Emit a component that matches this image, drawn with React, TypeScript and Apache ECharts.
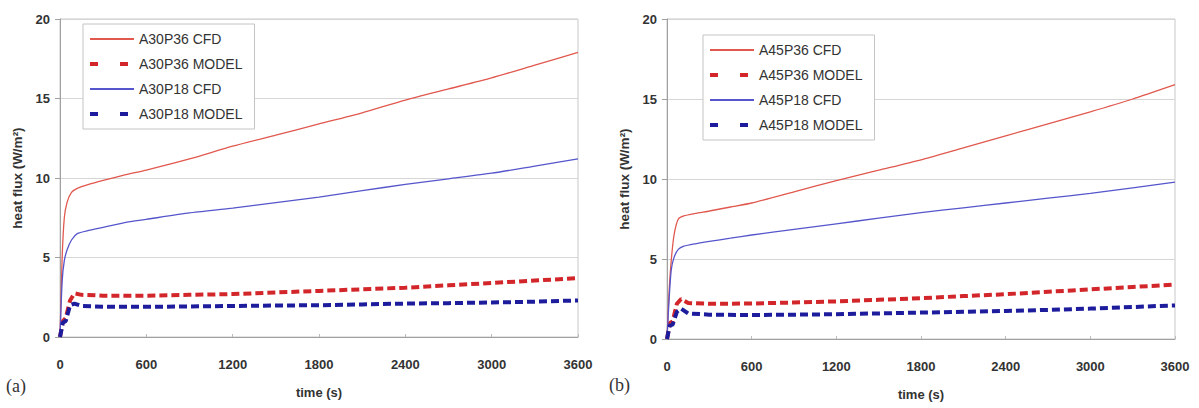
import React, { useEffect, useRef } from "react";
import * as echarts from "echarts";

const timeCfd = [0, 15, 30, 50, 80, 120, 200, 300, 450, 600, 900, 1200, 1500, 1800, 2100, 2400, 2700, 3000, 3300, 3600];
const timeModel = [0, 20, 40, 70, 100, 150, 300, 600, 900, 1200, 1500, 1800, 2100, 2400, 2700, 3000, 3300, 3600];

const a30p36Cfd = [0, 5, 7.5, 8.5, 9.1, 9.35, 9.6, 9.85, 10.2, 10.5, 11.2, 12.0, 12.7, 13.4, 14.1, 14.9, 15.6, 16.3, 17.1, 17.9];
const a30p18Cfd = [0, 3.5, 4.8, 5.5, 6.1, 6.5, 6.7, 6.9, 7.2, 7.4, 7.8, 8.1, 8.45, 8.8, 9.2, 9.6, 9.95, 10.3, 10.75, 11.2];
const a30p36Model = [0, 1.0, 1.2, 2.3, 2.75, 2.65, 2.6, 2.6, 2.65, 2.7, 2.8, 2.9, 3.0, 3.1, 3.25, 3.4, 3.55, 3.7];
const a30p18Model = [0, 0.9, 1.0, 2.0, 2.1, 1.95, 1.9, 1.9, 1.92, 1.95, 1.98, 2.0, 2.05, 2.1, 2.13, 2.17, 2.22, 2.3];

const a45p36Cfd = [0, 3, 4.9, 6.5, 7.5, 7.7, 7.85, 8.0, 8.25, 8.5, 9.2, 9.9, 10.55, 11.2, 11.95, 12.7, 13.45, 14.2, 15.0, 15.9];
const a45p18Cfd = [0, 2.5, 4.3, 5.1, 5.6, 5.8, 5.95, 6.1, 6.3, 6.5, 6.85, 7.2, 7.55, 7.9, 8.2, 8.5, 8.8, 9.1, 9.45, 9.8];
const a45p36Model = [0, 1.0, 1.1, 2.2, 2.5, 2.25, 2.2, 2.22, 2.28, 2.35, 2.45, 2.55, 2.68, 2.8, 2.95, 3.1, 3.25, 3.4];
const a45p18Model = [0, 0.85, 0.9, 1.7, 1.9, 1.6, 1.52, 1.5, 1.52, 1.55, 1.6, 1.65, 1.7, 1.75, 1.82, 1.9, 2.0, 2.1];

const legendLeft = ["A30P36 CFD", "A30P36 MODEL", "A30P18 CFD", "A30P18 MODEL"];
const legendRight = ["A45P36 CFD", "A45P36 MODEL", "A45P18 CFD", "A45P18 MODEL"];

const panelLabels = ["(a)", "(b)"];
const xAxisTitle = "time (s)";
const yAxisTitle = "heat flux (W/m²)";

const RED_CFD = "#e0584e";
const RED_MODEL = "#d2262a";
const BLUE_CFD = "#5656cc";
const BLUE_MODEL = "#1c1c9c";

const zip = (t: number[], v: number[]) => t.map((x, i) => [x, v[i]]);

export default function App() {
  const ref = useRef<HTMLDivElement>(null);
  useEffect(() => {
    document.body.style.margin = "0";
    const chart = echarts.init(ref.current!, null, { renderer: "svg" });
    const font = "Arial, 'Liberation Sans', sans-serif";
    const xAxis = (gridIndex: number) => ({
      type: "value",
      gridIndex,
      min: 0,
      max: 3600,
      interval: 600,
      name: xAxisTitle,
      nameLocation: "middle",
      nameGap: 49,
      nameTextStyle: { fontFamily: font, fontSize: 13, fontWeight: "bold", color: "#333" },
      axisLine: { lineStyle: { color: "#a0a0a0" } },
      axisTick: { show: true, length: 3, inside: true, lineStyle: { color: "#bbb" } },
      axisLabel: {
        fontFamily: font, fontSize: 13, fontWeight: "bold", color: "#333", margin: 21,
        formatter: (v: number) => String(v),
      },
      splitLine: { show: false },
    });
    const yAxis = (gridIndex: number) => ({
      type: "value",
      gridIndex,
      min: 0,
      max: 20,
      interval: 5,
      name: yAxisTitle,
      nameLocation: "middle",
      nameGap: 36,
      nameTextStyle: { fontFamily: font, fontSize: 13.5, fontWeight: "bold", color: "#333" },
      axisLine: { show: true, lineStyle: { color: "#a0a0a0" } },
      axisTick: { show: true, length: 5, lineStyle: { color: "#a0a0a0" } },
      axisLabel: { fontFamily: font, fontSize: 13, fontWeight: "bold", color: "#333", margin: 10 },
      splitLine: { show: true, lineStyle: { color: "#d6d6d6", width: 1 } },
    });
    const cfd = (name: string, t: number[], v: number[], color: string, idx: number) => ({
      type: "line",
      name,
      xAxisIndex: idx,
      yAxisIndex: idx,
      data: zip(t, v),
      showSymbol: false,
      symbol: "none",
      smooth: 0.2,
      lineStyle: { color, width: 1.3 },
      itemStyle: { color },
    });
    const model = (name: string, t: number[], v: number[], color: string, idx: number) => ({
      type: "line",
      name,
      xAxisIndex: idx,
      yAxisIndex: idx,
      data: zip(t, v),
      showSymbol: false,
      symbol: "none",
      lineStyle: { color, width: 4, type: [8, 4] },
      itemStyle: { color },
    });
    const legend = (names: string[], left: number, top: number) => ({
      data: names.map((n, i) =>
        i % 2 === 1
          ? { name: n, lineStyle: { type: [8, 22], width: 4 } }
          : { name: n }
      ),
      orient: "vertical",
      left,
      top,
      itemWidth: 44,
      itemHeight: 14,
      itemGap: 11,
      padding: [8, 12, 8, 5],
      borderColor: "#c4c4c4",
      borderWidth: 1,
      backgroundColor: "#fff",
      itemStyle: { opacity: 0 },
      textStyle: { fontFamily: font, fontSize: 14, color: "#333" },
    });
    chart.setOption({
      animation: false,
      backgroundColor: "#fff",
      grid: [
        { left: 60, top: 19, width: 518, height: 318, show: true, borderColor: "#c8c8c8", borderWidth: 1, backgroundColor: "transparent" },
        { left: 667, top: 19, width: 508, height: 320, show: true, borderColor: "#c8c8c8", borderWidth: 1, backgroundColor: "transparent" },
      ],
      xAxis: [xAxis(0), xAxis(1)],
      yAxis: [yAxis(0), yAxis(1)],
      legend: [legend(legendLeft, 83, 24), legend(legendRight, 703, 35)],
      series: [
        cfd(legendLeft[0], timeCfd, a30p36Cfd, RED_CFD, 0),
        model(legendLeft[1], timeModel, a30p36Model, RED_MODEL, 0),
        cfd(legendLeft[2], timeCfd, a30p18Cfd, BLUE_CFD, 0),
        model(legendLeft[3], timeModel, a30p18Model, BLUE_MODEL, 0),
        cfd(legendRight[0], timeCfd, a45p36Cfd, RED_CFD, 1),
        model(legendRight[1], timeModel, a45p36Model, RED_MODEL, 1),
        cfd(legendRight[2], timeCfd, a45p18Cfd, BLUE_CFD, 1),
        model(legendRight[3], timeModel, a45p18Model, BLUE_MODEL, 1),
      ],
      graphic: [
        { type: "text", left: 6, top: 377, style: { text: panelLabels[0], font: "18px 'Liberation Serif', serif", fill: "#333" } },
        { type: "text", left: 609, top: 376, style: { text: panelLabels[1], font: "18px 'Liberation Serif', serif", fill: "#333" } },
      ],
    });
    return () => chart.dispose();
  }, []);
  return <div ref={ref} style={{ width: 1199, height: 408 }} />;
}
